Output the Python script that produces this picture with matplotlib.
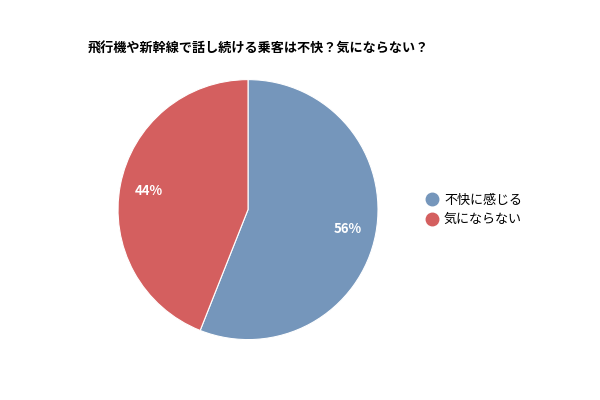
import matplotlib
matplotlib.use("Agg")
import matplotlib.pyplot as plt
from matplotlib.lines import Line2D

plt.rcParams["font.family"] = ["Noto Sans CJK JP", "DejaVu Sans"]

# data
labels = ["不快に感じる", "気にならない"]
values = [56, 44]
colors = ["#7596bb", "#d45f5f"]
title = "飛行機や新幹線で話し続ける乗客は不快？気にならない？"

fig = plt.figure(figsize=(6, 4), dpi=100)
ax = fig.add_axes([0.1967, 0.151, 0.4333, 0.65])

wedges, texts, autotexts = ax.pie(
    values,
    colors=colors,
    startangle=90,
    counterclock=False,
    autopct="%d%%",
    pctdistance=0.78,
    wedgeprops=dict(edgecolor="white", linewidth=0.8),
)
for t in autotexts:
    t.set_color("white")
    t.set_fontsize(9.5)
    t.set_fontweight("bold")
ax.set_xlim(-1, 1)
ax.set_ylim(-1, 1)
ax.set_aspect("equal")

fig.text(0.147, 0.878, title, fontsize=9.45, fontweight="bold", va="center", ha="left")

handles = [
    Line2D([0], [0], marker="o", color="none", markerfacecolor=c,
           markeredgecolor=c, markersize=9)
    for c in colors
]
fig.legend(handles, labels, loc="center left", bbox_to_anchor=(0.69, 0.475),
           frameon=False, fontsize=9.4, handlelength=1.0, handletextpad=0.4,
           labelspacing=0.5)

fig.savefig("out.png", dpi=100)
